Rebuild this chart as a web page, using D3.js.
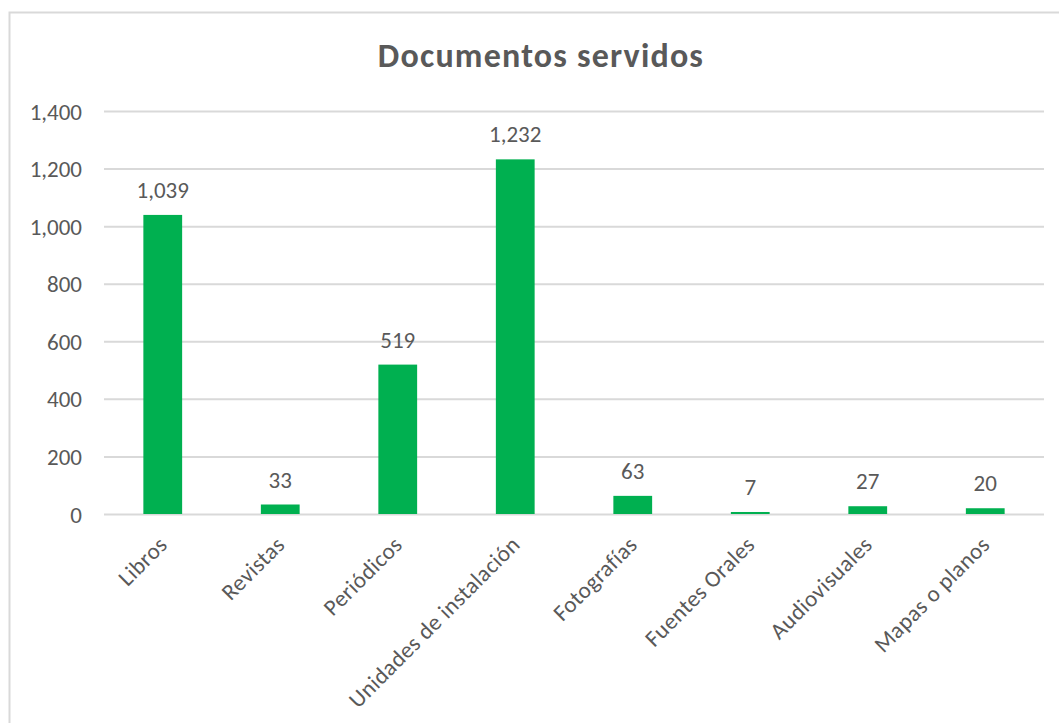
<!DOCTYPE html>
<html>
<head>
<meta charset="utf-8">
<script src="https://cdn.jsdelivr.net/npm/d3@7"></script>
<style>
  body { margin: 0; background: #fff; }
  svg, svg text { font-family: Carlito, Calibri, Lato, sans-serif; }
  .grid line { stroke: #d9d9d9; stroke-width: 2; }
  .grid .domain { display: none; }
  .axis text { fill: #595959; font-size: 23px; font-family: Carlito, Calibri, Lato, sans-serif; }
  .axis .domain, .axis line { display: none; }
</style>
</head>
<body>
<svg class="chart"></svg>
<script>
const categories = ["Libros", "Revistas", "Periódicos", "Unidades de instalación",
  "Fotografías", "Fuentes Orales", "Audiovisuales", "Mapas o planos"];
const values = [1039, 33, 519, 1232, 63, 7, 27, 20];
const yTicks = [0, 200, 400, 600, 800, 1000, 1200, 1400];

const W = 1059, H = 723;
const margin = { top: 111, right: 15, bottom: 209, left: 104 };
const width = W - margin.left - margin.right;
const height = H - margin.top - margin.bottom;

const x = d3.scaleBand()
  .domain(categories)
  .range([0, width])
  .paddingInner(0.67)
  .paddingOuter(0.335);

const y = d3.scaleLinear()
  .domain([0, 1400])
  .range([height, 0]);

const svg = d3.select('.chart')
  .attr('width', W)
  .attr('height', H);

// chart frame
svg.append('rect')
  .attr('x', 9.5).attr('y', 12.5)
  .attr('width', W + 10).attr('height', H + 10)
  .attr('fill', '#fff')
  .attr('stroke', '#d9d9d9')
  .attr('stroke-width', 2);

svg.append('text')
  .attr('x', 541)
  .attr('y', 67)
  .attr('text-anchor', 'middle')
  .attr('fill', '#595959')
  .attr('font-size', '34px')
  .attr('font-weight', 'bold')
  .attr('letter-spacing', '1.2px')
  .text('Documentos servidos');

const chart = svg.append('g')
  .attr('transform', 'translate(' + margin.left + ',' + margin.top + ')');

chart.append('g')
  .attr('class', 'grid')
  .call(d3.axisLeft(y).tickValues(yTicks).tickSize(-width).tickFormat(''));

chart.append('g')
  .attr('class', 'axis y')
  .call(d3.axisLeft(y).tickValues(yTicks).tickSize(0).tickPadding(22).tickFormat(d3.format(',')))
  .selectAll('text')
  .attr('dy', '0.35em');

chart.selectAll('.bar')
    .data(values)
  .enter().append('rect')
    .attr('class', 'bar')
    .attr('fill', '#00b050')
    .attr('x', (d, i) => x(categories[i]))
    .attr('y', d => y(d))
    .attr('width', x.bandwidth())
    .attr('height', d => height - y(d));

chart.selectAll('.label')
    .data(values)
  .enter().append('text')
    .attr('class', 'label')
    .attr('x', (d, i) => x(categories[i]) + x.bandwidth() / 2)
    .attr('y', d => y(d) - 17)
    .attr('text-anchor', 'middle')
    .attr('fill', '#595959')
    .attr('font-size', '23px')
    .text(d => d3.format(',')(d));

chart.append('g')
  .attr('class', 'axis x')
  .attr('transform', 'translate(0,' + height + ')')
  .call(d3.axisBottom(x).tickSize(0).tickPadding(0))
  .selectAll('text')
    .attr('text-anchor', 'end')
    .attr('dy', 0)
    .attr('letter-spacing', '0.4px')
    .attr('transform', 'translate(6,32) rotate(-45)');
</script>
</body>
</html>
